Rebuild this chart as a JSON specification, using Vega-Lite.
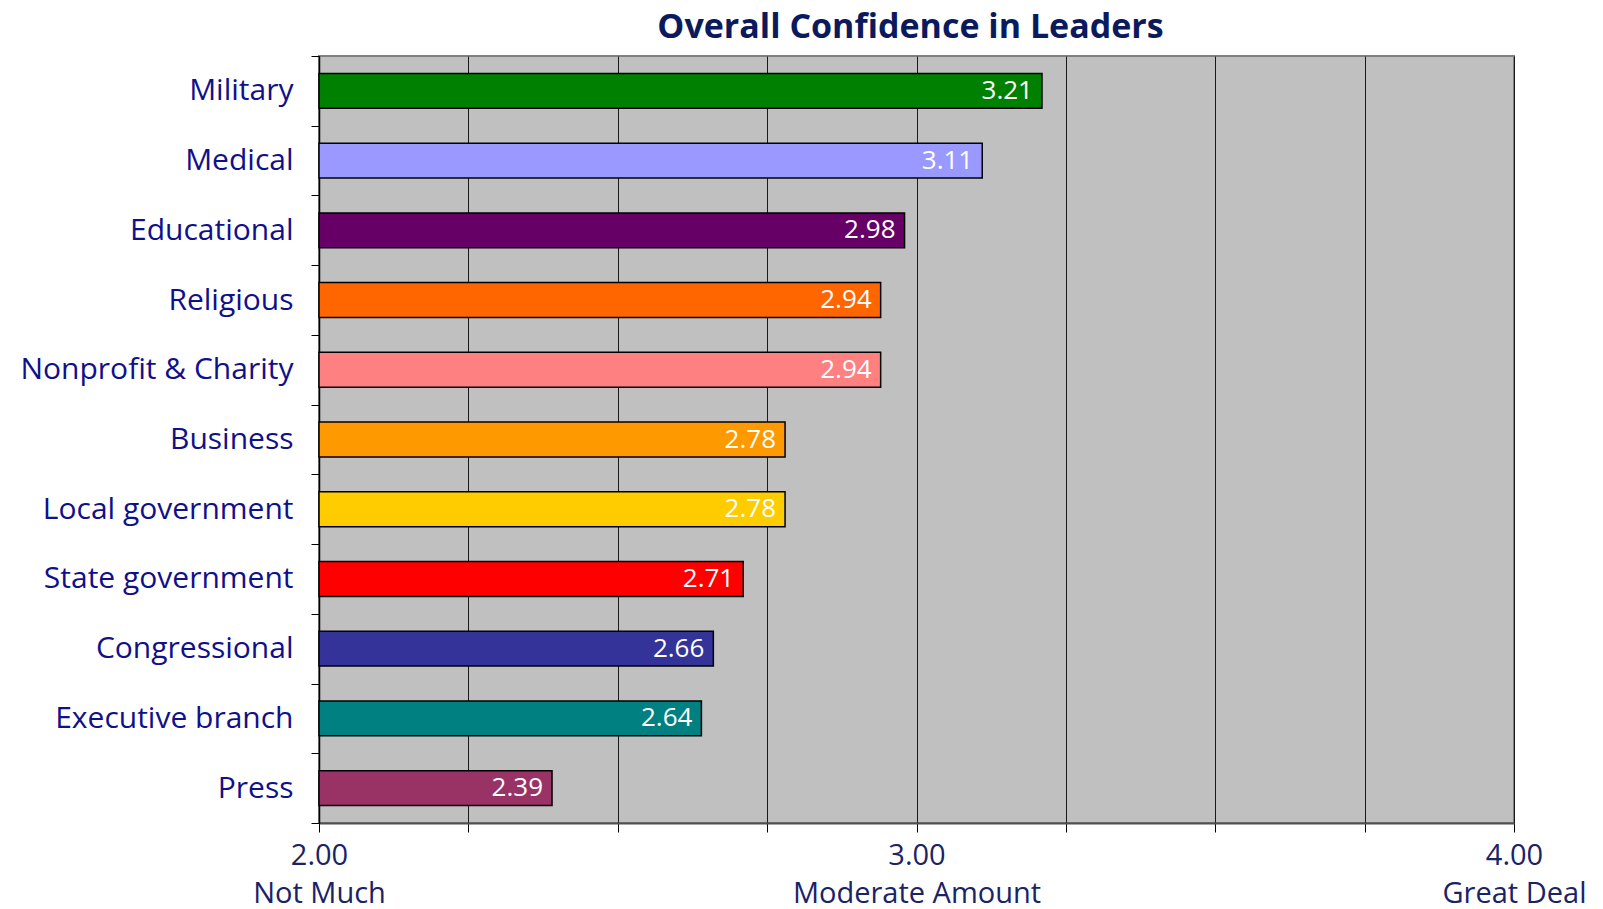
{
  "$schema": "https://vega.github.io/schema/vega-lite/v6.json",
  "autosize": "none",
  "width": 1195,
  "height": 767,
  "padding": {"left": 319, "top": 56, "right": 89, "bottom": 86},
  "background": "white",
  "title": {
    "text": "Overall Confidence in Leaders",
    "font": "Open Sans",
    "fontSize": 34,
    "fontWeight": "bold",
    "color": "#0B1A5C",
    "anchor": "middle",
    "dx": -6,
    "offset": -4
  },
  "config": {
    "view": {"stroke": "#808080", "strokeWidth": 2, "fill": "#C0C0C0"},
    "axis": {"labelFont": "Open Sans", "titleFont": "Open Sans", "labelLimit": 0}
  },
  "data": {
    "values": [
      {"sector": "Military", "score": 3.21, "color": "#008000"},
      {"sector": "Medical", "score": 3.11, "color": "#9999FF"},
      {"sector": "Educational", "score": 2.98, "color": "#660066"},
      {"sector": "Religious", "score": 2.94, "color": "#FF6600"},
      {"sector": "Nonprofit & Charity", "score": 2.94, "color": "#FF8080"},
      {"sector": "Business", "score": 2.78, "color": "#FF9900"},
      {"sector": "Local government", "score": 2.78, "color": "#FFCC00"},
      {"sector": "State government", "score": 2.71, "color": "#FF0000"},
      {"sector": "Congressional", "score": 2.66, "color": "#333399"},
      {"sector": "Executive branch", "score": 2.64, "color": "#008080"},
      {"sector": "Press", "score": 2.39, "color": "#993366"}
    ]
  },
  "encoding": {
    "y": {
      "field": "sector",
      "type": "nominal",
      "sort": null,
      "scale": {"paddingInner": 0, "paddingOuter": 0},
      "axis": {
        "title": null,
        "tickBand": "extent",
        "tickSize": 8,
        "tickColor": "#000000",
        "domainColor": "#000000",
        "domainWidth": 1.5,
        "labelColor": "#10108A",
        "labelFontSize": 30,
        "labelPadding": 18,
        "labelLimit": 0,
        "grid": false
      }
    }
  },
  "layer": [
    {
      "mark": {"type": "bar", "height": {"band": 0.5}, "stroke": "#000000", "strokeWidth": 1.5},
      "encoding": {
        "x": {
          "field": "score",
          "type": "quantitative",
          "scale": {"domain": [2, 4], "zero": false, "nice": false},
          "axis": {
            "title": null,
            "values": [2, 2.25, 2.5, 2.75, 3, 3.25, 3.5, 3.75, 4],
            "grid": true,
            "gridColor": "#1A1A1A",
            "gridWidth": 1,
            "gridOpacity": 1,
            "tickSize": 9,
            "tickColor": "#000000",
            "domainColor": "#505050",
            "domainWidth": 2,
            "labelFlush": false,
            "labelOverlap": false,
            "labelLimit": 0,
            "labelColor": "#1A2366",
            "labelFontSize": 29,
            "labelLineHeight": 38,
            "labelPadding": 9,
            "labelExpr": "datum.value == 2 ? ['2.00', 'Not Much'] : datum.value == 3 ? ['3.00', 'Moderate Amount'] : datum.value == 4 ? ['4.00', 'Great Deal'] : ''"
          }
        },
        "x2": {"datum": 2},
        "color": {"field": "color", "type": "nominal", "scale": null, "legend": null}
      }
    },
    {
      "mark": {"type": "text", "align": "right", "baseline": "middle", "dx": -9, "font": "Open Sans", "fontSize": 26, "color": "#FFFFFF"},
      "encoding": {
        "x": {"field": "score", "type": "quantitative"},
        "text": {"field": "score", "type": "quantitative", "format": ".2f"}
      }
    }
  ]
}
